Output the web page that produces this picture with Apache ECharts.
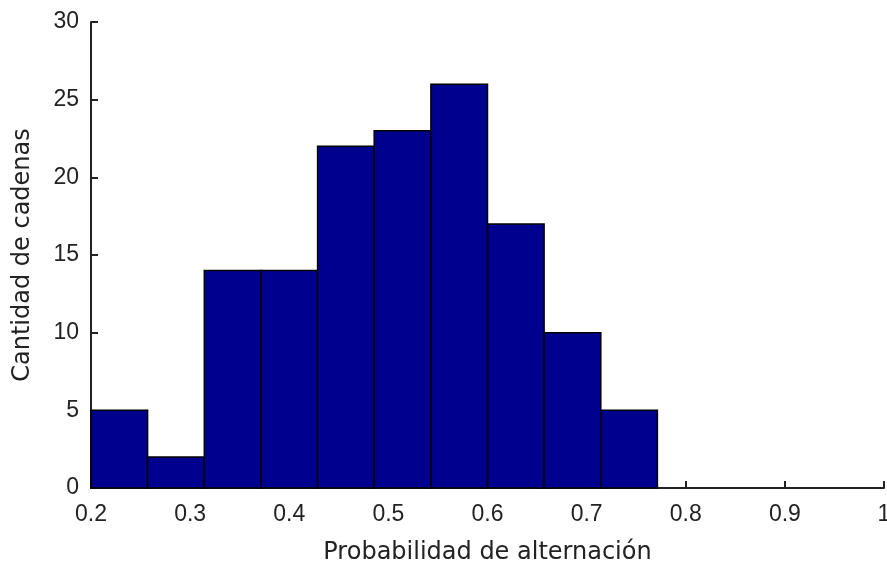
<!DOCTYPE html>
<html>
<head>
<meta charset="utf-8">
<style>
  html, body { margin: 0; padding: 0; background: #fff; }
  #chart { width: 887px; height: 565px; }
</style>
<script src="https://cdn.jsdelivr.net/npm/echarts@6/dist/echarts.min.js"></script>
</head>
<body>
<div id="chart"></div>
<script>
// Histogram bin edges (10 bins) and counts per bin
const binEdges = [0.2, 0.2571, 0.3143, 0.3714, 0.4286, 0.4857, 0.5429, 0.6, 0.6571, 0.7143, 0.7714];
const counts = [5, 2, 14, 14, 22, 23, 26, 17, 10, 5];
const xTicks = [0.2, 0.3, 0.4, 0.5, 0.6, 0.7, 0.8, 0.9, 1];
const yTicks = [0, 5, 10, 15, 20, 25, 30];

const bins = counts.map((c, i) => [binEdges[i], binEdges[i + 1], c]);

const tickFont = 'Liberation Sans';
const nameFont = 'DejaVu Sans';
const textColor = '#222';

const chart = echarts.init(document.getElementById('chart'), null, { renderer: 'canvas' });
chart.setOption({
  animation: false,
  backgroundColor: '#fff',
  grid: { left: 91, right: 3, top: 22, bottom: 77, containLabel: false, outerBoundsMode: 'none' },
  xAxis: {
    type: 'value',
    min: xTicks[0],
    max: xTicks[xTicks.length - 1],
    interval: 0.1,
    name: 'Probabilidad de alternación',
    nameLocation: 'middle',
    nameGap: 53,
    nameTextStyle: { fontFamily: nameFont, fontSize: 24, color: textColor },
    axisLine: { show: true, onZero: false, lineStyle: { color: '#222', width: 2 } },
    axisTick: { show: true, inside: true, length: 7, lineStyle: { color: '#222', width: 2 } },
    axisLabel: {
      fontFamily: tickFont, fontSize: 23, color: textColor, margin: 15,
      showMinLabel: true, showMaxLabel: true, hideOverlap: false,
      formatter: v => String(Math.round(v * 10) / 10)
    },
    splitLine: { show: false }
  },
  yAxis: {
    type: 'value',
    min: yTicks[0],
    max: yTicks[yTicks.length - 1],
    interval: 5,
    name: 'Cantidad de cadenas',
    nameLocation: 'middle',
    nameGap: 56,
    nameTextStyle: { fontFamily: nameFont, fontSize: 24, color: textColor },
    axisLine: { show: true, lineStyle: { color: '#222', width: 2 } },
    axisTick: { show: true, inside: true, length: 7, lineStyle: { color: '#222', width: 2 } },
    axisLabel: { fontFamily: tickFont, fontSize: 23, color: textColor, margin: 12, showMinLabel: true, showMaxLabel: true },
    splitLine: { show: false }
  },
  series: [{
    type: 'custom',
    data: bins,
    encode: { x: [0, 1], y: 2 },
    renderItem: (params, api) => {
      const p0 = api.coord([api.value(0), 0]);
      const p1 = api.coord([api.value(1), api.value(2)]);
      return {
        type: 'rect',
        shape: { x: p0[0], y: p1[1], width: p1[0] - p0[0], height: p0[1] - p1[1] },
        style: { fill: '#00008F', stroke: '#000', lineWidth: 1.5 }
      };
    }
  }]
});
</script>
</body>
</html>
